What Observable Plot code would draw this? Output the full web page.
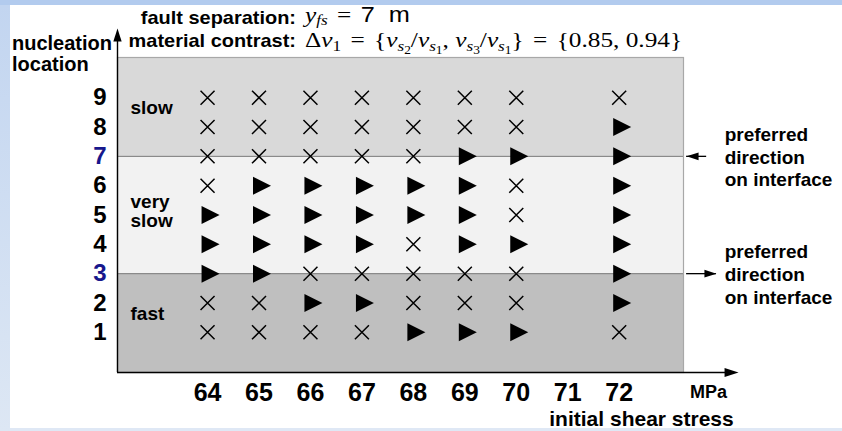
<!DOCTYPE html>
<html>
<head>
<meta charset="utf-8">
<script src="https://cdn.jsdelivr.net/npm/d3@7"></script>
<script src="https://cdn.jsdelivr.net/npm/@observablehq/plot@0.6"></script>
<style>
  html, body { margin: 0; padding: 0; }
  body { width: 842px; height: 431px; position: relative; overflow: hidden; background: #dfe8f5;
         font-family: "Liberation Sans", Arial, Helvetica, sans-serif; }
  #topband { position: absolute; left: 0; top: 0; width: 842px; height: 5px; background: #b2cbee; }
  #leftband { position: absolute; left: 0; top: 5px; width: 10px; height: 426px; background: linear-gradient(#c2d5f0, #dde7f4); }
  #panel { position: absolute; left: 10px; top: 5px; width: 832px; height: 423px; background: #fff; }
  #chart { position: absolute; left: 0; top: 0; }
  .hdr { position: absolute; white-space: nowrap; line-height: 1; color: #000; }
  .lbl { left: 0; width: 286px; text-align: right; font-weight: bold; font-size: 19px;
         transform: scaleX(1.05); transform-origin: right center; }
  .math { left: 295px; font-family: "Liberation Serif", "DejaVu Serif", serif; font-size: 22px;
          transform: scaleX(1.15); transform-origin: left center; }
  .math sub { font-size: 68%; vertical-align: -0.3em; line-height: 0; }
  .math sub sub { font-size: 78%; vertical-align: -0.25em; }
  .math.first sub { vertical-align: -0.22em; }
  .math .rm { font-family: "Liberation Sans", Arial, sans-serif; }
  .math .op { margin: 0 0.12em; }
  #ylabel { position: absolute; left: 2px; top: 28px; font-weight: bold; font-size: 20px; line-height: 21px; }
</style>
</head>
<body>
<div id="topband"></div>
<div id="leftband"></div>
<div id="panel">
  <div id="chart"></div>
  <div class="hdr lbl" style="top:3px">fault separation:</div>
  <div class="hdr lbl" style="top:26px">material contrast:</div>
  <div class="hdr math first" style="top:-1px"><i>y</i><sub><i>fs</i></sub> <span class="op">=</span> <span class="rm">7&nbsp;&nbsp;m</span></div>
  <div class="hdr math" style="top:24px">Δ<i>v</i><sub>1</sub> <span class="op">=</span> {<i>v</i><sub><i>s</i><sub>2</sub></sub>/<i>v</i><sub><i>s</i><sub>1</sub></sub>, <i>v</i><sub><i>s</i><sub>3</sub></sub>/<i>v</i><sub><i>s</i><sub>1</sub></sub>} <span class="op">=</span> {0.85, 0.94}</div>
  <div id="ylabel">nucleation<br>location</div>
</div>
<script>
// Initial shear stress (MPa) and nucleation location of each run
const stress = [64, 65, 66, 67, 68, 69, 70, 71, 72];
const locations = [1, 2, 3, 4, 5, 6, 7, 8, 9];

// Outcome per nucleation location, one entry per stress value:
// "x" = rupture arrested, ">" = rupture propagates, "" = not run
const outcome1 = ["x", "x", "x", "x", ">", ">", ">", "", "x"];
const outcome2 = ["x", "x", ">", ">", "x", "x", "x", "", ">"];
const outcome3 = [">", ">", "x", "x", "x", "x", "x", "", ">"];
const outcome4 = [">", ">", ">", ">", "x", ">", ">", "", ">"];
const outcome5 = [">", ">", ">", ">", ">", ">", "x", "", ">"];
const outcome6 = ["x", ">", ">", ">", ">", ">", "x", "", ">"];
const outcome7 = ["x", "x", "x", "x", "x", ">", ">", "", ">"];
const outcome8 = ["x", "x", "x", "x", "x", "x", "x", "", ">"];
const outcome9 = ["x", "x", "x", "x", "x", "x", "x", "", "x"];

// Material layers (bottom to top) and the interfaces between them
const layerNames = ["fast", "very\nslow", "slow"];
const interfaces = [3, 7];
const preferredDirection = ["right", "left"];
const calloutText = "preferred\ndirection\non interface";

// ---- layout / style ----
const xDomain = [62.25, 73.25];
const yDomain = [-0.37, 10.37];
const xAxisTip = 74.32;
const yAxisTip = 11.36;
const layerFills = ["#bfbfbf", "#f2f2f2", "#d9d9d9"];
const blue = "#17178c";

const outcomes = [outcome1, outcome2, outcome3, outcome4, outcome5, outcome6, outcome7, outcome8, outcome9];
const cells = [];
locations.forEach((loc, i) => {
  stress.forEach((s, j) => {
    const o = outcomes[i][j];
    if (o) cells.push({stress: s, location: loc, outcome: o});
  });
});

const bounds = [yDomain[0], ...interfaces, yDomain[1]];
const layers = layerNames.map((name, i) => {
  const inside = locations.filter(l => l > bounds[i] && l < bounds[i + 1]);
  return {name, from: bounds[i], to: bounds[i + 1], fill: layerFills[i], mid: d3.mean(inside)};
});

// Custom marker shapes
const rightTriangle = {
  draw(ctx, size) {
    const r = Math.sqrt(size / Math.PI);
    ctx.moveTo(r, 0); ctx.lineTo(-r, -r); ctx.lineTo(-r, r); ctx.closePath();
  }
};
const cross = {
  draw(ctx, size) {
    const r = Math.sqrt(size / Math.PI);
    ctx.moveTo(-r, -r); ctx.lineTo(r, r);
    ctx.moveTo(r, -r); ctx.lineTo(-r, r);
  }
};
const arrowHead = {
  draw(ctx, size) {
    const L = Math.sqrt(size / Math.PI);
    ctx.moveTo(0, 0); ctx.lineTo(-L, -L * 0.32); ctx.lineTo(-L, L * 0.32); ctx.closePath();
  }
};

// Callout arrows beside the interfaces
const calloutNear = 73.31;
const callouts = interfaces.map((y, i) => {
  const dir = preferredDirection[i];
  return dir === "left"
    ? {y, tail: 73.70, tip: calloutNear, rotate: 180}
    : {y, tail: calloutNear, tip: 73.89, rotate: 0};
});

const chart = Plot.plot({
  width: 832,
  height: 423,
  marginLeft: 107,
  marginRight: 159,
  marginTop: 52,
  marginBottom: 56,
  x: {domain: xDomain, axis: null},
  y: {domain: yDomain, axis: null},
  color: {type: "identity"},
  style: {fontFamily: "'Liberation Sans', Arial, sans-serif", background: "transparent", overflow: "visible", color: "#000"},
  marks: [
    // layer bands
    Plot.rect(layers, {x1: xDomain[0], x2: xDomain[1], y1: "from", y2: "to", fill: "fill"}),
    Plot.ruleY(interfaces, {stroke: "#8a8a8a", strokeWidth: 1.2}),
    Plot.frame({stroke: "#a8a8a8", strokeWidth: 1.2}),
    Plot.text(layers, {x: xDomain[0], y: "mid", text: "name", textAnchor: "start", dx: 13, dy: -4,
      fontSize: 19, fontWeight: "bold", lineHeight: 1, fill: "#000"}),

    // axes with arrowheads
    Plot.ruleX([xDomain[0]], {y1: yDomain[0], y2: yAxisTip - 0.2, stroke: "#000", strokeWidth: 1.4}),
    Plot.ruleY([yDomain[0]], {x1: xDomain[0], x2: xAxisTip - 0.1, stroke: "#000", strokeWidth: 1.4}),
    Plot.dot([{}], {x: xDomain[0], y: yAxisTip, symbol: arrowHead, r: 13, fill: "#000", stroke: "none", rotate: -90}),
    Plot.dot([{}], {x: xAxisTip, y: yDomain[0], symbol: arrowHead, r: 14, fill: "#000", stroke: "none"}),

    // tick labels
    Plot.text(locations, {x: xDomain[0], y: d => d, text: d => String(d), textAnchor: "end", dx: -11,
      fontSize: 24, fontWeight: "bold", fill: d => interfaces.includes(d) ? blue : "#000"}),
    Plot.text(stress, {x: d => d, y: yDomain[0], text: d => String(d), dy: 20,
      fontSize: 25, fontWeight: "bold", fill: "#000"}),
    Plot.text(["MPa"], {frameAnchor: "bottom-right", lineAnchor: "middle", dx: 25, dy: 20, textAnchor: "middle",
      fontSize: 18, fontWeight: "bold", fill: "#000"}),
    Plot.text(["initial shear stress"], {frameAnchor: "bottom-right", lineAnchor: "middle", dx: -42, dy: 47,
      textAnchor: "middle", fontSize: 21, fontWeight: "bold", fill: "#000"}),

    // outcomes
    Plot.dot(cells.filter(d => d.outcome === "x"), {x: "stress", y: "location", symbol: cross, r: 7,
      stroke: "#000", strokeWidth: 1.5, fill: "none"}),
    Plot.dot(cells.filter(d => d.outcome === ">"), {x: "stress", y: "location", symbol: rightTriangle, r: 9,
      fill: "#000", stroke: "none", dx: 3}),

    // preferred-direction callouts
    Plot.ruleY(callouts, {y: "y", x1: "tail", x2: "tip", stroke: "#000", strokeWidth: 1.3}),
    Plot.dot(callouts, {x: "tip", y: "y", rotate: "rotate", symbol: arrowHead, r: 12, fill: "#000", stroke: "none"}),
    Plot.text(interfaces, {x: 74.05, y: d => d, text: () => calloutText, textAnchor: "start", lineAnchor: "middle",
      fontSize: 19, fontWeight: "bold", lineHeight: 1.2, fill: "#000"})
  ]
});
document.getElementById("chart").appendChild(chart);
</script>
</body>
</html>
